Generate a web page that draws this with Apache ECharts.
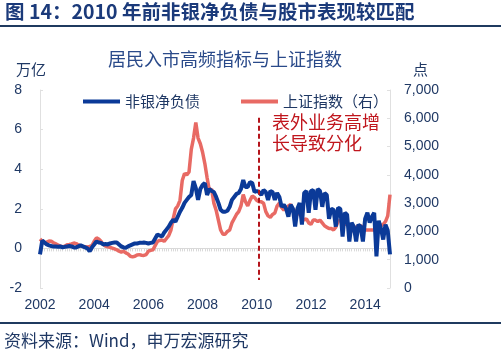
<!DOCTYPE html>
<html><head><meta charset="utf-8">
<script src="https://cdn.jsdelivr.net/npm/echarts@6/dist/echarts.min.js"></script>
<style>html,body{margin:0;padding:0;background:#fff}#c{width:501px;height:358px}</style>
</head><body><div id="c"></div>
<script>
// Monthly categories Jan 2002 – Dec 2014
const years = [2002,2003,2004,2005,2006,2007,2008,2009,2010,2011,2012,2013,2014];
const monthNames = ['01','02','03','04','05','06','07','08','09','10','11','12'];
const months = [];
years.forEach(y => monthNames.forEach(m => months.push(y + '-' + m)));

// 非银净负债 (万亿), left axis
const nonBankNet = [
  -0.3, 0.4, 0.3, 0.2, 0.15, 0.12, 0.1, 0.1, 0.08, 0.1, 0.05, 0.08,
  0.1, 0.12, 0.1, 0.05, 0.05, 0.1, 0.15, 0.1, 0.05, 0.0, -0.15, 0.05,
  0.2, 0.35, 0.3, 0.28, 0.2, 0.22, 0.2, 0.25, 0.28, 0.3, 0.3, 0.2,
  0.1, 0.05, 0.03, 0.1, 0.15, 0.2, 0.25, 0.25, 0.28, 0.28, 0.3, 0.28,
  0.25, 0.28, 0.3, 0.5, 0.7, 0.65, 0.6, 0.8, 0.95, 1.1, 1.3, 1.45,
  1.35, 1.6, 1.85, 2.05, 2.3, 2.45, 2.6, 2.7, 3.4, 3.05, 2.45, 3.0,
  3.2, 3.3, 2.7, 3.0, 2.9, 2.85, 2.6, 2.3, 1.95, 1.85, 1.85, 1.9,
  2.1, 2.45, 2.6, 2.75, 2.8, 3.0, 3.45, 3.1, 3.1, 3.35, 3.3, 2.85,
  2.9, 2.85, 2.7, 2.95, 2.85, 2.45, 2.9, 2.85, 2.45, 2.8, 2.6, 2.1,
  2.2, 2.0, 1.6, 2.2, 2.0, 1.1, 2.0, 2.3, 1.2, 2.8, 2.9, 1.8,
  2.9, 2.95, 1.95, 3.0, 2.9, 2.1, 2.8, 2.7, 1.5, 2.0, 1.95, 1.1,
  2.05, 2.0, 0.6, 1.8, 1.7, 0.35, 1.3, 1.1, 0.35, 1.2, 1.1, 0.35,
  1.5, 1.8, 1.3, 1.6, 1.8, -0.4, 1.4, 1.0, 0.45, 1.2, 0.9, -0.3
];

// 上证指数 (点), right axis
const sseIndex = [
  1730, 1650, 1600, 1620, 1660, 1650, 1600, 1560, 1520, 1480, 1460, 1480,
  1530, 1540, 1560, 1590, 1570, 1520, 1490, 1470, 1460, 1450, 1470, 1500,
  1650, 1770, 1730, 1650, 1540, 1480, 1460, 1440, 1410, 1380, 1350, 1300,
  1270, 1300, 1240, 1200, 1120, 1100, 1120, 1170, 1180, 1160, 1150, 1180,
  1300, 1330, 1350, 1500, 1650, 1680, 1700, 1650, 1750, 1850, 2050, 2450,
  2800, 2900, 3100, 3800, 4050, 4000, 4100, 4900, 5300, 5850, 5300, 5100,
  4800, 4400, 3900, 3450, 3500, 3000, 2750, 2400, 2050, 1900, 1900, 2000,
  2050, 2300, 2450, 2600, 2700, 2900, 3300, 3050, 2900, 3100, 3250, 3200,
  3100, 3050, 3050, 3000, 2700, 2550, 2500, 2600, 2650, 2900, 3000, 2850,
  2750, 2850, 2900, 2950, 2800, 2700, 2750, 2600, 2500, 2400, 2450, 2300,
  2250, 2400, 2400, 2350, 2400, 2300, 2200, 2150, 2100, 2100, 2050, 2150,
  2350, 2400, 2300, 2250, 2250, 2150, 2000, 2100, 2150, 2200, 2200, 2150,
  2050, 2050, 2050, 2050, 2050, 2050, 2100, 2200, 2250, 2350, 2550, 3300
];

const leftTicks = {min: -2, max: 8, interval: 2};
const rightTicks = {min: 0, max: 7000, interval: 1000};
const dividerMonth = '2010-02';
const dividerSpan = [6.6, -1.6];

const navy = '#1F3864';
const font = '"Liberation Sans", Arial, "Noto Sans CJK SC", sans-serif';
const cjk = '"Noto Sans CJK SC", "Liberation Sans", sans-serif';

const chart = echarts.init(document.getElementById('c'), null, {renderer: 'canvas'});
chart.setOption({
  animation: false,
  backgroundColor: '#fff',
  grid: {left: 40, right: 111, top: 90, bottom: 70, containLabel: false},
  legend: {
    left: 78, top: 89, itemWidth: 37, itemHeight: 4, itemGap: 41, icon: 'rect',
    textStyle: {color: navy, fontSize: 15, fontFamily: cjk},
    data: ['非银净负债', '上证指数（右）']
  },
  xAxis: [{
    type: 'category', data: months, boundaryGap: false, position: 'bottom',
    axisLine: {show: false, onZero: false}, axisTick: {show: false},
    axisLabel: {
      color: navy, fontSize: 14, fontFamily: font, margin: 10,
      interval: (i, v) => v.endsWith('-01') && (+v.slice(0, 4)) % 2 === 0,
      formatter: v => v.slice(0, 4)
    },
    splitLine: {show: false}
  }, {
    type: 'category', data: months, boundaryGap: false, position: 'bottom',
    axisLine: {show: true, onZero: true, onZeroAxisIndex: 0, lineStyle: {color: '#D9D9D9', width: 1}},
    axisTick: {show: true, interval: 0, length: 3, lineStyle: {color: '#D9D9D9'}},
    axisLabel: {show: false}, splitLine: {show: false}
  }],
  yAxis: [{
    type: 'value', min: leftTicks.min, max: leftTicks.max, interval: leftTicks.interval,
    axisLine: {show: true, lineStyle: {color: '#E0E0E0'}},
    axisTick: {show: true, inside: true, length: 3, lineStyle: {color: '#E0E0E0'}},
    axisLabel: {color: navy, fontSize: 14, fontFamily: font, margin: 18},
    splitLine: {show: false}
  }, {
    type: 'value', min: rightTicks.min, max: rightTicks.max, interval: rightTicks.interval,
    position: 'right',
    axisLine: {show: true, lineStyle: {color: '#E0E0E0'}},
    axisTick: {show: true, inside: true, length: 3, lineStyle: {color: '#E0E0E0'}},
    axisLabel: {color: navy, fontSize: 14, fontFamily: font, margin: 14, align: 'left',
      formatter: v => v.toLocaleString('en-US')},
    splitLine: {show: false}
  }],
  series: [{
    name: '上证指数（右）', type: 'line', xAxisIndex: 0, yAxisIndex: 1, data: sseIndex,
    showSymbol: false, lineStyle: {color: '#E86A64', width: 3.5}, itemStyle: {color: '#E86A64'}, z: 2
  }, {
    name: '非银净负债', type: 'line', xAxisIndex: 0, yAxisIndex: 0, data: nonBankNet,
    showSymbol: false, lineStyle: {color: '#0B3A98', width: 4}, itemStyle: {color: '#0B3A98'}, z: 3,
    markLine: {
      silent: true, symbol: 'none', label: {show: false},
      lineStyle: {color: '#B4141B', type: [5, 3], width: 2},
      data: [[{coord: [dividerMonth, dividerSpan[0]]}, {coord: [dividerMonth, dividerSpan[1]]}]]
    }
  }],
  graphic: [
    {type: 'text', left: 5, top: 2, style: {text: '图 14：2010 年前非银净负债与股市表现较匹配',
      fill: '#1B3A7A', font: 'bold 19.5px ' + cjk}},
    {type: 'rect', shape: {x: 0, y: 25, width: 501, height: 2}, style: {fill: '#1F3A5F'}},
    {type: 'text', left: 16, top: 62, style: {text: '万亿', fill: navy, font: '15px ' + cjk}},
    {type: 'text', left: 413, top: 62, style: {text: '点', fill: navy, font: '15px ' + cjk}},
    {type: 'text', left: 108, top: 50, style: {text: '居民入市高频指标与上证指数', fill: '#2A4A8A', font: '18px ' + cjk}},
    {type: 'text', left: 272, top: 112, style: {text: '表外业务高增\n长导致分化', fill: '#C0161D',
      font: '18px ' + cjk, lineHeight: 21}},
    {type: 'rect', shape: {x: 0, y: 322, width: 501, height: 2}, style: {fill: '#1F3A5F'}},
    {type: 'text', left: 4, top: 332, style: {text: '资料来源：Wind，申万宏源研究', fill: navy, font: '17px ' + cjk}}
  ]
});
</script></body></html>
